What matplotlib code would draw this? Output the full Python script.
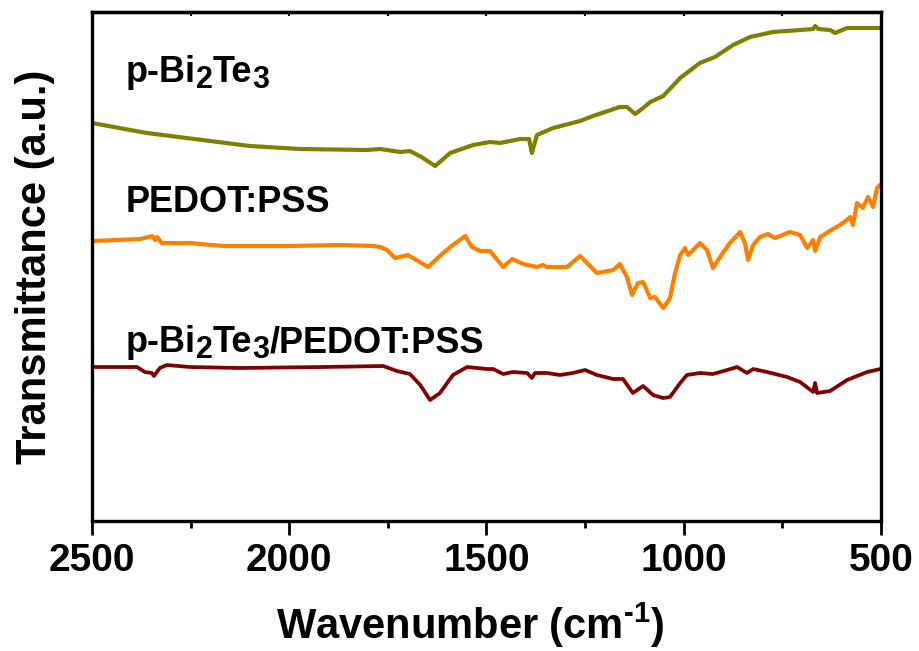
import matplotlib
matplotlib.use("Agg")
import matplotlib.pyplot as plt

plt.rcParams['font.family'] = ['Liberation Sans', 'DejaVu Sans']
plt.rcParams['font.weight'] = 'bold'
plt.rcParams['mathtext.fontset'] = 'custom'
plt.rcParams['mathtext.rm'] = 'Liberation Sans:bold'
plt.rcParams['mathtext.bf'] = 'Liberation Sans:bold'
plt.rcParams['mathtext.it'] = 'Liberation Sans:bold'
plt.rcParams['mathtext.default'] = 'rm'

# ---- data (wavenumber in cm^-1, transmittance in a.u.) ----
bi2te3_wn = [2500, 2361, 2100, 1973, 1803, 1770, 1719, 1694, 1665, 1630, 1592, 1534,
             1491, 1466, 1415, 1392, 1385, 1372, 1331, 1263, 1230, 1162, 1144, 1123,
             1103, 1085, 1052, 1009, 959, 921, 875, 832, 774, 738, 672, 667, 659,
             629, 616, 586, 535, 502]
bi2te3_t = [398, 388, 375, 372, 371, 372, 369, 370, 364, 355, 368, 376,
            379, 378, 382, 382, 368, 386, 393, 400, 405, 414, 414, 407,
            413, 419, 425, 443, 458, 464, 476, 484, 489, 490, 492, 495, 492,
            491, 488, 493, 493, 493]

pedot_wn = [2497, 2378, 2348, 2340, 2335, 2323, 2252, 2168, 1998, 1871, 1788, 1770,
            1752, 1732, 1699, 1648, 1610, 1585, 1554, 1537, 1516, 1491, 1458, 1435,
            1407, 1372, 1357, 1347, 1296, 1263, 1245, 1220, 1179, 1162, 1144, 1131,
            1116, 1103, 1085, 1073, 1052, 1035, 1022, 1009, 997, 989, 959, 941,
            926, 908, 883, 857, 845, 837, 824, 807, 786, 769, 731, 705, 687, 672,
            667, 654, 630, 604, 590, 578, 571, 561, 546, 533, 520, 510, 502]
pedot_t = [280, 282, 285, 281, 284, 278, 278, 275, 275, 276, 275, 274,
           271, 263, 266, 254, 268, 276, 285, 274, 270, 270, 254, 262,
           257, 254, 256, 254, 254, 265, 258, 248, 251, 257, 244, 226,
           238, 239, 223, 224, 213, 223, 248, 266, 273, 266, 278, 271,
           253, 264, 278, 289, 278, 261, 276, 284, 287, 283, 289, 286, 273, 281,
           270, 284, 290, 296, 300, 304, 296, 318, 313, 324, 314, 333, 336]

comp_wn = [2497, 2386, 2366, 2348, 2343, 2328, 2310, 2252, 2125, 1914, 1762, 1727,
           1694, 1668, 1643, 1618, 1585, 1549, 1499, 1483, 1458, 1433, 1397, 1385,
           1377, 1347, 1314, 1281, 1250, 1220, 1179, 1154, 1129, 1103, 1078, 1052,
           1035, 1009, 992, 959, 926, 890, 865, 840, 824, 789, 738, 705, 672, 667,
           662, 629, 586, 535, 502]
comp_t = [154, 154, 149, 148, 145, 153, 156, 154, 153, 154, 155, 150,
          147, 136, 121, 128, 146, 154, 152, 152, 147, 149, 148, 143,
          148, 148, 146, 148, 151, 146, 142, 142, 128, 135, 126, 123,
          124, 138, 146, 148, 147, 151, 154, 148, 152, 149, 144, 139, 129, 138,
          128, 130, 141, 149, 152]

# label pieces: (text, is_subscript)
label_parts = [
    [('p-Bi', False), ('2', True), ('Te', False), ('3', True)],
    [('PEDOT:PSS', False)],
    [('p-Bi', False), ('2', True), ('Te', False), ('3', True), ('/PEDOT:PSS', False)],
]
label_x = 2414
label_y = [439, 309, 169]
colors = ['#808000', '#FF8000', '#800000']
xticks = [2500, 2000, 1500, 1000, 500]

fig = plt.figure(figsize=(9.19, 6.51), dpi=100)
ax = fig.add_axes([92/919, 1 - 521/651, 789/919, 509/651])

ax.plot(bi2te3_wn, bi2te3_t, color=colors[0], lw=3.0, solid_joinstyle='round')
ax.plot(pedot_wn, pedot_t, color=colors[1], lw=3.0, solid_joinstyle='round')
ax.plot(comp_wn, comp_t, color=colors[2], lw=2.7, solid_joinstyle='round')

ax.set_xlim(2500, 500)
ax.set_ylim(0, 509)

renderer = fig.canvas.get_renderer()
for parts, yy in zip(label_parts, label_y):
    dx = 0.0
    for s, sub in parts:
        fs = 22 if sub else 26
        dy = -6 if sub else 0
        t = ax.annotate(s, xy=(label_x, yy), xycoords='data',
                        xytext=(dx, dy), textcoords='offset pixels',
                        fontsize=fs, fontweight='bold', va='baseline', ha='left')
        dx += t.get_window_extent(renderer).width

ax.set_xticks(xticks)
ax.set_xticks([2250, 1750, 1250, 750], minor=True)
ax.set_yticks([])
ax.tick_params(axis='x', which='major', direction='out', length=10, width=2,
               labelsize=28, pad=6)
ax.tick_params(axis='x', which='minor', direction='out', length=5, width=2)
for sp in ax.spines.values():
    sp.set_linewidth(2.4)

top = ax.secondary_xaxis('top')
top.set_xticks([2250, 2000, 1750, 1500, 1250, 1000, 750])
top.tick_params(direction='in', length=3, width=1.5, labeltop=False)
top.spines['top'].set_linewidth(2.4)

ax.set_xlabel(r'Wavenumber (cm$^{\text{-}1}$)', fontsize=30, fontweight='bold')
ax.xaxis.label.set_va('baseline')
ax.xaxis.set_label_coords(0.479, -0.232)
ax.set_ylabel('Transmittance (a.u.)', fontsize=30, fontweight='bold')
ax.yaxis.label.set_va('baseline')
ax.yaxis.set_label_coords(-0.058, 0.5)

fig.savefig('out.png', dpi=100)
